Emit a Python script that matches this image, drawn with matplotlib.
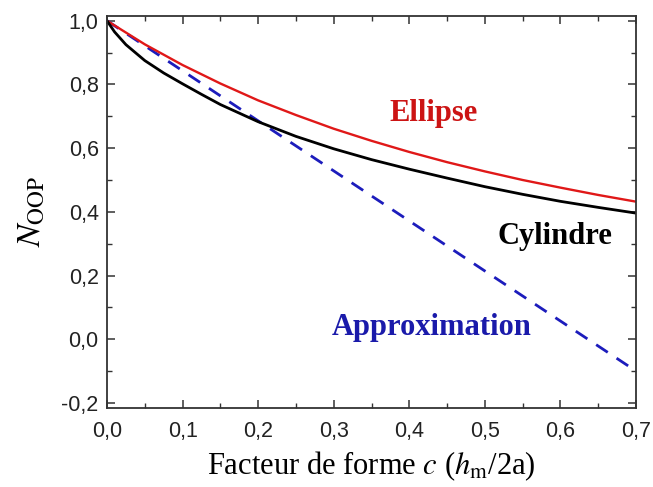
import matplotlib
matplotlib.use('Agg')
import matplotlib.pyplot as plt
from matplotlib.ticker import MultipleLocator, FuncFormatter

# facteur de forme c
c_ell = [0.0, 0.05, 0.1, 0.15, 0.2, 0.25, 0.3, 0.35, 0.4, 0.45, 0.5, 0.55, 0.6, 0.65, 0.7]
N_ellipse = [1.0, 0.926, 0.861, 0.803, 0.750, 0.704, 0.661, 0.623, 0.588, 0.556,
             0.527, 0.500, 0.476, 0.453, 0.432]

c_cyl = [0.0, 0.01, 0.025, 0.05, 0.075, 0.1, 0.125, 0.15, 0.2, 0.25, 0.3, 0.35,
         0.4, 0.45, 0.5, 0.55, 0.6, 0.65, 0.7]
N_cylindre = [1.0, 0.965, 0.925, 0.875, 0.836, 0.802, 0.769, 0.737, 0.683, 0.637,
              0.598, 0.564, 0.534, 0.506, 0.479, 0.455, 0.433, 0.414, 0.396]

c_app = [0.0, 0.7]
N_approx = [1.0, -0.1]

plt.rcParams['mathtext.fontset'] = 'stix'

fig = plt.figure(figsize=(6.53, 4.87), dpi=100, facecolor='w')
ax = fig.add_axes([0.1639, 0.1622, 0.8101, 0.8056])

ax.plot(c_app, N_approx, color='#1c1cbc', lw=2.0, dashes=(5, 3.8))
ax.plot(c_ell, N_ellipse, color='#e01818', lw=1.7)
ax.plot(c_cyl, N_cylindre, color='black', lw=2.0)

ax.set_xlim(0, 0.7)
ax.set_ylim(-0.216, 1.016)
ax.xaxis.set_major_locator(MultipleLocator(0.1))
ax.xaxis.set_minor_locator(MultipleLocator(0.05))
ax.yaxis.set_major_locator(MultipleLocator(0.2))
ax.yaxis.set_minor_locator(MultipleLocator(0.1))
fmt = FuncFormatter(lambda v, p: ('%.1f' % v).replace('.', ',').replace('-0,0', '0,0'))
ax.xaxis.set_major_formatter(fmt)
ax.yaxis.set_major_formatter(fmt)

ax.tick_params(which='both', direction='in', top=True, right=True, color='#333333')
ax.tick_params(which='major', length=6, width=1.1)
ax.tick_params(which='minor', length=3.5, width=1.0)
ax.tick_params(axis='x', pad=9)
ax.tick_params(axis='y', pad=6)
for lab in ax.get_xticklabels() + ax.get_yticklabels():
    lab.set_family('Liberation Sans')
    lab.set_fontsize(15.5)
    lab.set_color('#222222')
for s in ax.spines.values():
    s.set_linewidth(1.3)
    s.set_color('#333333')

ax.set_xlabel(r'Facteur de forme $c$ ($h_{\mathrm{m}}$/2a)', family='Liberation Serif',
              fontsize=22, labelpad=6)
ax.set_ylabel(r'$N_{\mathrm{OOP}}$', fontsize=24)
ax.yaxis.set_label_coords(-0.112, 0.5)

ax.text(0.432, 0.71, 'Ellipse', color='#cc1414', fontsize=22, fontweight='bold',
        family='Liberation Serif', ha='center', va='center')
ax.text(0.593, 0.322, 'Cylindre', color='black', fontsize=22, fontweight='bold',
        family='Liberation Serif', ha='center', va='center')
ax.text(0.43, 0.036, 'Approximation', color='#1a1aaa', fontsize=22, fontweight='bold',
        family='Liberation Serif', ha='center', va='center')

fig.savefig('out.png', dpi=100)
